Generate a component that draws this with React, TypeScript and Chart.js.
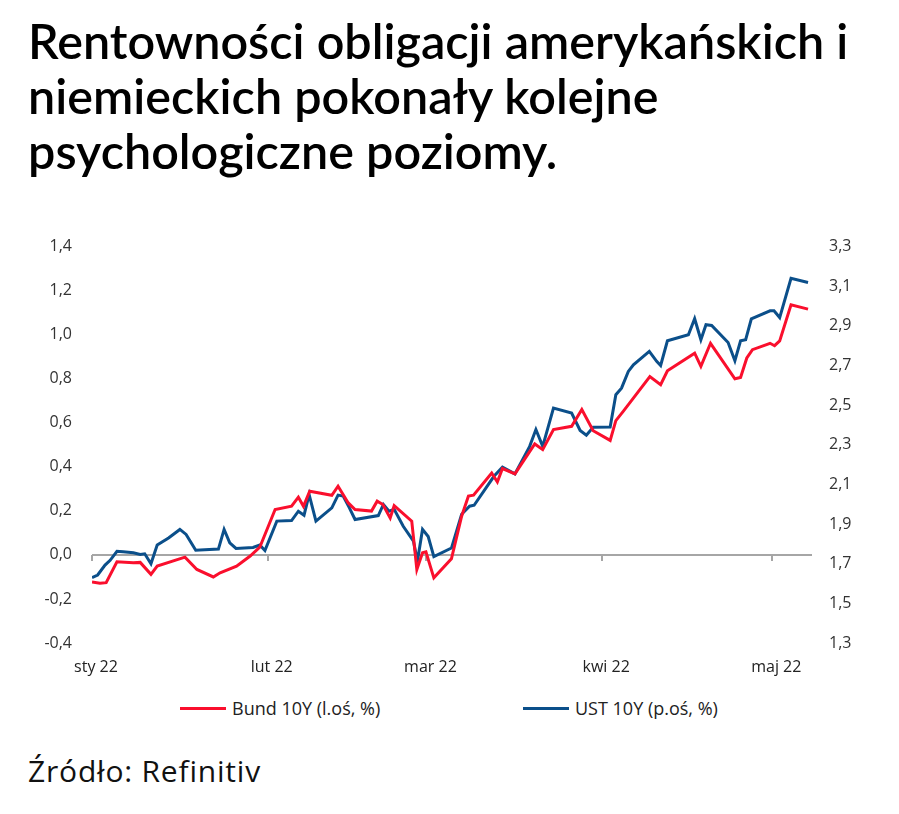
import React, { useEffect, useRef } from "react";
import { Chart, registerables } from "chart.js";

Chart.register(...registerables);

// Days since 1 Jan 2022 (x) and 10Y yields
const bundDays = [0,1.4,2.5,4.4,7.3,8.5,10.4,11.5,16.4,18.5,21.4,22.6,25.5,27.9,29.6,31.1,32.3,35.2,36.4,37.3,38.4,42.3,43.4,45.2,46.4,49.3,50.3,51.3,52.6,53.3,56.4,57.3,58.3,58.9,60.3,63.4,65.2,66.4,67.3,70.5,71.5,72.4,74.6,78.1,79.5,81.4,84.6,86.4,88.4,91.4,92.4,93.7,98.4,100.3,101.5,106.3,107.4,109.1,113.4,114.4,115.5,116.5,119.6,120.4,121.3,123.3,126.3];
const bundValues = [-0.123,-0.129,-0.126,-0.031,-0.036,-0.034,-0.088,-0.051,-0.01,-0.066,-0.10,-0.081,-0.051,-0.005,0.035,0.13,0.206,0.221,0.262,0.221,0.289,0.271,0.312,0.236,0.206,0.199,0.244,0.229,0.168,0.224,0.153,-0.066,0.01,0.014,-0.104,-0.018,0.176,0.267,0.271,0.372,0.331,0.392,0.368,0.504,0.478,0.569,0.584,0.66,0.564,0.52,0.61,0.652,0.81,0.773,0.836,0.916,0.856,0.961,0.80,0.806,0.894,0.932,0.961,0.95,0.972,1.136,1.116];

const ustDays = [0,1,2.3,3.2,4.4,5.5,7.3,8.5,9.3,10.4,11.5,13.5,15.5,16.6,18.3,22.3,23.3,24.3,25.4,28.4,29.6,30.5,32.6,35.2,36.4,37.4,38.3,39.5,42.3,43.4,44.3,45.4,46.4,50.5,51.4,52.4,53.3,54.9,56.7,57.4,58.3,59.3,60.3,63.4,65.2,66.6,67.4,70.9,72.4,74.6,77.2,78.3,79.5,81.4,84.6,86.1,87.2,88.4,91.4,92.4,93.4,94.6,95.5,98.3,99.6,100.3,101.5,105.2,106.3,107.4,108.3,109.3,112.2,113.4,114.4,115.3,116.3,119.6,120.3,121.3,123.3,126.3];
const ustValues = [1.63,1.643,1.693,1.717,1.763,1.76,1.755,1.747,1.75,1.70,1.794,1.83,1.873,1.848,1.768,1.774,1.873,1.805,1.777,1.782,1.794,1.767,1.915,1.918,1.965,1.945,2.049,1.915,1.982,2.046,2.041,1.982,1.923,1.943,1.999,1.965,1.974,1.889,1.814,1.713,1.873,1.837,1.736,1.779,1.95,1.99,1.995,2.141,2.187,2.153,2.292,2.377,2.292,2.485,2.46,2.372,2.348,2.388,2.39,2.553,2.586,2.67,2.704,2.771,2.721,2.70,2.825,2.855,2.936,2.83,2.906,2.902,2.816,2.724,2.825,2.83,2.936,2.976,2.976,2.942,3.14,3.119];

const monthStarts = [0, 31, 59, 90, 120];
const monthLabels = ["sty 22", "lut 22", "mar 22", "kwi 22", "maj 22"];
const leftTicks = [-0.4, -0.2, 0, 0.2, 0.4, 0.6, 0.8, 1.0, 1.2, 1.4];
const rightTicks = [1.3, 1.5, 1.7, 1.9, 2.1, 2.3, 2.5, 2.7, 2.9, 3.1, 3.3];

const RED = "#FA0F2D";
const BLUE = "#0B4F8A";
const fmt = (v: number) => v.toFixed(1).replace(".", ",");

const zeroLinePlugin = {
  id: "zeroLine",
  beforeDatasetsDraw(chart: any) {
    const { ctx, scales } = chart;
    const x = scales.x;
    const y = scales.y;
    const y0 = y.getPixelForValue(0);
    ctx.save();
    ctx.strokeStyle = "#A6A6A6";
    ctx.lineWidth = 2;
    ctx.beginPath();
    ctx.moveTo(x.left, y0);
    ctx.lineTo(x.right, y0);
    for (const m of monthStarts) {
      const px = Math.round(x.getPixelForValue(m));
      ctx.moveTo(px, y0);
      ctx.lineTo(px, y0 + 6);
    }
    ctx.stroke();
    ctx.restore();
  },
};

export default function App() {
  const ref = useRef<HTMLCanvasElement>(null);
  useEffect(() => {
    if (!ref.current) return;
    const chart = new Chart(ref.current, {
      type: "line",
      data: {
        datasets: [
          {
            label: "Bund 10Y (l.oś, %)",
            data: bundDays.map((d, i) => ({ x: d, y: bundValues[i] })),
            yAxisID: "y",
            borderColor: RED,
            backgroundColor: RED,
            borderWidth: 3,
            pointRadius: 0,
            tension: 0,
          },
          {
            label: "UST 10Y (p.oś, %)",
            data: ustDays.map((d, i) => ({ x: d, y: ustValues[i] })),
            yAxisID: "y1",
            borderColor: BLUE,
            backgroundColor: BLUE,
            borderWidth: 3,
            pointRadius: 0,
            tension: 0,
          },
        ],
      },
      options: {
        responsive: false,
        animation: false,
        layout: { padding: { left: 0, right: 0, top: 12, bottom: 0 } },
        plugins: { legend: { display: false }, tooltip: { enabled: false } },
        scales: {
          x: {
            type: "linear",
            min: 0,
            max: 127,
            grid: { display: false, drawTicks: false },
            border: { display: false },
            afterBuildTicks: (axis: any) => {
              axis.ticks = monthStarts.map((m) => ({ value: m + 0.7 }));
            },
            afterFit: (s: any) => {
              s.height = 39;
            },
            ticks: {
              autoSkip: false,
              maxRotation: 0,
              padding: 15,
              color: "#222",
              font: { family: "Open Sans", size: 16 },
              callback: (_v: any, i: number) => monthLabels[i],
            },
          },
          y: {
            position: "left",
            min: -0.4,
            max: 1.4,
            grid: { display: false, drawTicks: false },
            border: { display: false },
            afterBuildTicks: (axis: any) => {
              axis.ticks = leftTicks.map((v) => ({ value: v }));
            },
            afterFit: (s: any) => {
              s.width = 92;
            },
            ticks: {
              padding: 20,
              color: "#333",
              font: { family: "Open Sans", size: 16 },
              callback: (v: any) => fmt(Number(v)),
            },
          },
          y1: {
            position: "right",
            min: 1.3,
            max: 3.3,
            grid: { display: false, drawTicks: false },
            border: { display: false },
            afterBuildTicks: (axis: any) => {
              axis.ticks = rightTicks.map((v) => ({ value: v }));
            },
            afterFit: (s: any) => {
              s.width = 87;
            },
            ticks: {
              padding: 17,
              color: "#333",
              font: { family: "Open Sans", size: 16 },
              callback: (v: any) => fmt(Number(v)),
            },
          },
        },
      },
      plugins: [zeroLinePlugin],
    });
    return () => chart.destroy();
  }, []);

  const legendItem = (color: string, text: string, left: number) => (
    <div
      style={{
        position: "absolute",
        left,
        top: 697,
        height: 22,
        display: "flex",
        alignItems: "center",
        font: "18px 'Open Sans'",
        color: "#222",
        whiteSpace: "nowrap",
      }}
    >
      <span style={{ display: "inline-block", width: 46, height: 3, background: color, marginRight: 6 }} />
      {text}
    </div>
  );

  return (
    <div style={{ position: "absolute", left: 0, top: 0, width: 899, height: 814, background: "#fff" }}>
      <div
        style={{
          position: "absolute",
          left: 28,
          top: 13,
          font: "600 48.5px Lato",
          lineHeight: "55px",
          color: "#000",
          whiteSpace: "nowrap",
        }}
      >
        Rentowności obligacji amerykańskich i<br />
        niemieckich pokonały kolejne<br />
        psychologiczne poziomy.
      </div>
      <div style={{ position: "absolute", left: 0, top: 217, width: 899, height: 465 }}>
        <canvas ref={ref} width={899} height={465} style={{ width: 899, height: 465 }} />
      </div>
      {legendItem(RED, "Bund 10Y (l.oś, %)", 180)}
      {legendItem(BLUE, "UST 10Y (p.oś, %)", 523)}
      <div
        style={{
          position: "absolute",
          left: 28,
          top: 755,
          font: "30px 'Open Sans'",
          letterSpacing: "0.8px",
          lineHeight: "32px",
          color: "#111",
          whiteSpace: "nowrap",
        }}
      >
        Źródło: Refinitiv
      </div>
    </div>
  );
}
